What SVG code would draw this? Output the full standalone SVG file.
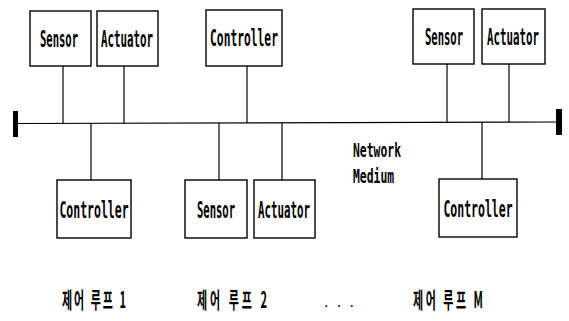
<svg xmlns="http://www.w3.org/2000/svg" width="569" height="321" viewBox="0 0 569 321">
<style>
.box{fill:#fff;stroke:#000;stroke-width:1.4}
.lbl{font-family:"DejaVu Sans Mono","Liberation Mono",monospace;font-size:23px;font-weight:bold;fill:#000;text-anchor:middle}
.net{font-family:"DejaVu Sans Mono","Liberation Mono",monospace;font-size:19px;font-weight:bold;fill:#000}
.kr{font-family:"Noto Sans CJK KR","Noto Sans",sans-serif;font-size:22px;font-weight:bold;fill:#000}
.dots{font-family:"Liberation Sans",Arial,sans-serif;font-size:16px;fill:#000}
.wire{stroke:#000;stroke-width:1.2;fill:none}
.cap{fill:#000}
</style>
<rect width="569" height="321" fill="#fff"/>
<g id="connectors">
<line class="wire" x1="16" y1="123.5" x2="558" y2="122"/>
<rect class="cap" x="13" y="111" width="5" height="26"/>
<rect class="cap" x="556" y="109" width="6" height="26"/>
<line class="wire" x1="63" y1="66" x2="63" y2="123.5"/>
<line class="wire" x1="124" y1="66" x2="124" y2="123.5"/>
<line class="wire" x1="247" y1="66" x2="247" y2="123"/>
<line class="wire" x1="447" y1="64" x2="447" y2="122"/>
<line class="wire" x1="509" y1="64" x2="509" y2="122"/>
<line class="wire" x1="91" y1="123.5" x2="91" y2="180"/>
<line class="wire" x1="219" y1="123" x2="219" y2="180"/>
<line class="wire" x1="282" y1="123" x2="282" y2="180"/>
<line class="wire" x1="482" y1="122" x2="482" y2="179"/>
</g>
<g id="sensor1">
<rect class="box" x="30" y="11" width="61" height="55"/>
<text class="lbl" transform="translate(59 47) scale(0.46 1)">Sensor</text>
</g>
<g id="actuator1">
<rect class="box" x="97" y="11" width="61" height="55"/>
<text class="lbl" transform="translate(127 47) scale(0.47 1)">Actuator</text>
</g>
<g id="controller2">
<rect class="box" x="206" y="10" width="76" height="56"/>
<text class="lbl" transform="translate(244 46) scale(0.49 1)">Controller</text>
</g>
<g id="sensorM">
<rect class="box" x="413" y="9" width="61" height="55"/>
<text class="lbl" transform="translate(444 45) scale(0.46 1)">Sensor</text>
</g>
<g id="actuatorM">
<rect class="box" x="482" y="9" width="63" height="55"/>
<text class="lbl" transform="translate(513 45) scale(0.47 1)">Actuator</text>
</g>
<g id="controller1">
<rect class="box" x="57" y="180" width="74" height="58"/>
<text class="lbl" transform="translate(94 218) scale(0.5 1)">Controller</text>
</g>
<g id="sensor2">
<rect class="box" x="185" y="180" width="62" height="58"/>
<text class="lbl" transform="translate(216 218) scale(0.46 1)">Sensor</text>
</g>
<g id="actuator2">
<rect class="box" x="254" y="180" width="61" height="58"/>
<text class="lbl" transform="translate(284 218) scale(0.47 1)">Actuator</text>
</g>
<g id="controllerM">
<rect class="box" x="439" y="179" width="78" height="58"/>
<text class="lbl" transform="translate(478 217) scale(0.5 1)">Controller</text>
</g>
<g id="network-label">
<text class="net" transform="translate(353 157) scale(0.6 1)">Network</text>
<text class="net" transform="translate(353 183) scale(0.6 1)">Medium</text>
</g>
<g id="loop-labels">
<text class="kr" transform="translate(62 308) scale(0.5 1)" textLength="128" lengthAdjust="spacing">제어 루프 1</text>
<text class="kr" transform="translate(197 308) scale(0.5 1)" textLength="140" lengthAdjust="spacing">제어 루프 2</text>
<text class="dots" x="324" y="307" textLength="30" lengthAdjust="spacing">. . .</text>
<text class="kr" transform="translate(413 308) scale(0.5 1)" textLength="140" lengthAdjust="spacing">제어 루프 M</text>
</g>
</svg>
